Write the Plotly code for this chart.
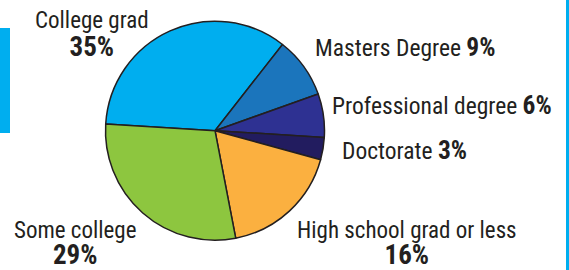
import plotly.graph_objects as go

W, H = 569, 270

categories = ["College grad", "Masters Degree", "Professional degree", "Doctorate",
              "High school grad or less", "Some college"]
values = [34.6, 9.0, 6.4, 3.3, 17.7, 29.0]
pct_labels = ["35%", "9%", "6%", "3%", "16%", "29%"]
colors = ["#00aeef", "#1b75bc", "#2e3192", "#221c5f", "#fbb040", "#8dc63f"]

INK = "#231f20"
FONT = "Roboto Condensed"

cx, cy, r = 215, 130.7, 109.5

fig = go.Figure(go.Pie(
    labels=categories, values=values, sort=False, direction="clockwise",
    rotation=273.5 - 360, textinfo="none", hoverinfo="label+percent",
    marker=dict(colors=colors, line=dict(color=INK, width=1.5)),
    domain=dict(x=[(cx - r) / W, (cx + r) / W], y=[(H - cy - r) / H, (H - cy + r) / H]),
    showlegend=False,
))

def px(x):
    return x / W

def py(y):
    return (H - y) / H

def ann(text, x, y, anchor, size):
    fig.add_annotation(text=text, x=px(x), y=py(y), xref="paper", yref="paper",
                       xanchor=anchor, yanchor="middle", showarrow=False, align="center",
                       font=dict(family=FONT, size=size, color=INK))

def sized(t, size, b=False):
    if b:
        t = "<b>" + t + "</b>"
    return '<span style="font-size:%.1fpx">%s</span>' % (size, t)

def two_line(i, x, y, base):
    # base font size sets the line spacing (1.3 x base)
    ann(sized(categories[i], 23) + "<br>" + sized(pct_labels[i], 27, True), x, y, "center", base)

two_line(0, 91.5, 34.6, 21.5)
two_line(5, 75, 243.7, 20)
two_line(4, 406.5, 243.7, 20)
# single-line labels
ann(categories[1] + " " + sized(pct_labels[1], 25.5, True), 313, 47, "left", 23.5)
ann(categories[2] + " " + sized(pct_labels[2], 25.5, True), 330, 105, "left", 23.5)
ann(categories[3] + " " + sized(pct_labels[3], 25.5, True), 340, 150, "left", 23.5)

# decorative edge bars
fig.add_shape(type="rect", xref="paper", yref="paper", x0=0, x1=px(10), y0=py(133), y1=py(28),
              fillcolor="#00aeef", line=dict(width=0))
fig.add_shape(type="rect", xref="paper", yref="paper", x0=px(566), x1=1, y0=0, y1=1,
              fillcolor="#00aeef", line=dict(width=0))

fig.update_layout(width=W, height=H, margin=dict(l=0, r=0, t=0, b=0),
                  paper_bgcolor="white", plot_bgcolor="white")

fig.write_html("out.html", config={"displayModeBar": False},
               post_script="document.body.style.margin='0';")
